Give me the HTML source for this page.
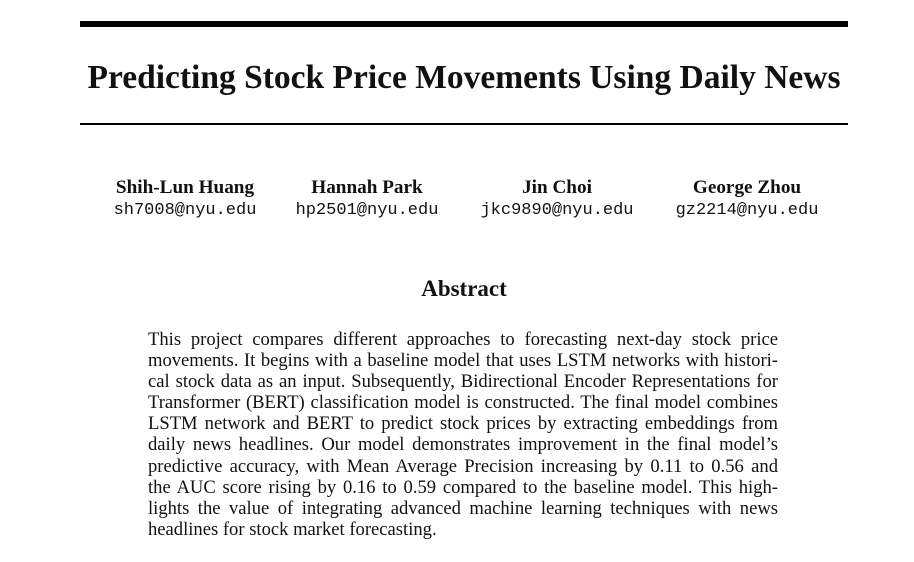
<!DOCTYPE html>
<html><head><meta charset="utf-8"><style>
body{margin:0;background:#fff;width:914px;height:562px;overflow:hidden;position:relative;font-family:"Liberation Serif",serif;color:#111}
.abs{position:absolute}
.rule{position:absolute;left:80px;width:768px;background:#000}
.title{left:7px;width:914px;top:57px;text-align:center;font-weight:bold;font-size:33.5px;line-height:42px}
.author{position:absolute;top:175px;width:220px;text-align:center}
.name{font-weight:bold;font-size:19.2px;line-height:25px}
.mail{font-family:"Liberation Mono",monospace;font-size:17px;line-height:22px}
.absh{left:7px;width:914px;top:275px;text-align:center;font-weight:bold;font-size:23px;line-height:28px}
.body{left:148px;width:630px;top:329px;font-size:18.6px;line-height:21.1px}
.body div{text-align:justify;text-align-last:justify;white-space:nowrap;height:21.1px}
.body div.last{text-align-last:left}
</style></head><body>
<div class="rule" style="top:21px;height:6px"></div>
<div class="abs title">Predicting Stock Price Movements Using Daily News</div>
<div class="rule" style="top:123px;height:2px"></div>
<div class="author" style="left:75px"><div class="name">Shih-Lun Huang</div><div class="mail">sh7008@nyu.edu</div></div>
<div class="author" style="left:257px"><div class="name">Hannah Park</div><div class="mail">hp2501@nyu.edu</div></div>
<div class="author" style="left:447px"><div class="name">Jin Choi</div><div class="mail">jkc9890@nyu.edu</div></div>
<div class="author" style="left:637px"><div class="name">George Zhou</div><div class="mail">gz2214@nyu.edu</div></div>
<div class="abs absh">Abstract</div>
<div class="abs body">
<div>This project compares different approaches to forecasting next-day stock price</div>
<div>movements. It begins with a baseline model that uses LSTM networks with histori-</div>
<div>cal stock data as an input. Subsequently, Bidirectional Encoder Representations for</div>
<div>Transformer (BERT) classification model is constructed. The final model combines</div>
<div>LSTM network and BERT to predict stock prices by extracting embeddings from</div>
<div>daily news headlines. Our model demonstrates improvement in the final model’s</div>
<div>predictive accuracy, with Mean Average Precision increasing by 0.11 to 0.56 and</div>
<div>the AUC score rising by 0.16 to 0.59 compared to the baseline model. This high-</div>
<div>lights the value of integrating advanced machine learning techniques with news</div>
<div class="last">headlines for stock market forecasting.</div>
</div>
</body></html>
